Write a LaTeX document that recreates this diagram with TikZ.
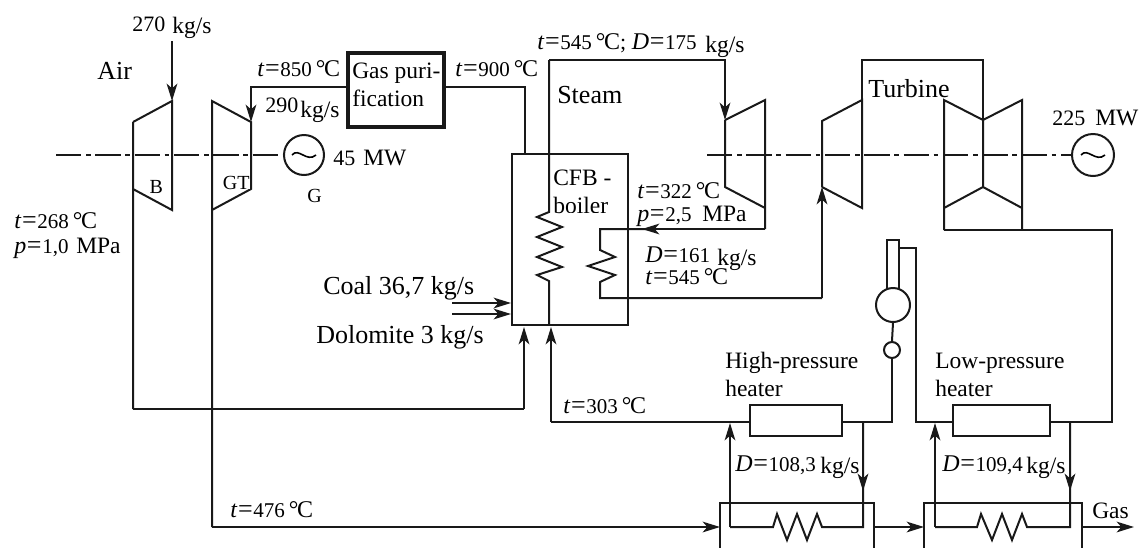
\documentclass[tikz,border=0pt]{standalone}
\usepackage{fontspec}
\setmainfont{Liberation Serif}
\usetikzlibrary{arrows.meta}
\newcommand\setpx[1]{\fontsize{\dimexpr#1pt*3/4\relax}{\dimexpr#1pt\relax}\selectfont}
\newcommand\Eq{{\setpx{26}\kern.5pt=\kern.5pt}}
\newcommand\Tv[1]{{\setpx{24}\textit{t}\Eq}{\setpx{21}#1}\kern3pt{\setpx{24}°\kern-1pt C}}
\newcommand\Pv[1]{{\setpx{24}\textit{p}\Eq}{\setpx{21}#1}}
\newcommand\Dv[1]{{\setpx{24}\textit{D}\Eq}{\setpx{21}#1}}
\tikzset{
  pipe/.style={line width=1.5pt,line join=miter,black!90},
  flow/.style={pipe,-{Stealth[length=13pt,width=8pt,inset=3.5pt]}},
  shaft/.style={line width=1pt,black!90,dash pattern=on 19pt off 3.5pt on 3.5pt off 3.5pt},
  lab/.style={anchor=base west,inner sep=0pt,font=\setpx{23.5}},
  big/.style={anchor=base west,inner sep=0pt,font=\setpx{26}},
  num/.style={anchor=base west,inner sep=0pt,font=\setpx{22}},
  tiny/.style={anchor=base west,inner sep=0pt,font=\setpx{20}},
  boxnode/.style={pipe,draw,rectangle,inner sep=0pt,fill=none},
}
\begin{document}
\begin{tikzpicture}[x=.75pt,y=-.75pt]
\useasboundingbox (0,0) rectangle (1142,547);
% named points
\coordinate (shL) at (56,155);
\coordinate (shR) at (707,155);
% boxes
\node[boxnode,line width=2.8pt,minimum width=72pt,minimum height=55.5pt] (gas) at (396,90) {};
\node[boxnode,minimum width=87pt,minimum height=128.25pt] (boiler) at (570,239.5) {};
\node[boxnode,minimum width=69pt,minimum height=23.25pt] (hpH) at (796,420.5) {};
\node[boxnode,minimum width=72.75pt,minimum height=23.25pt] (lpH) at (1001.5,420.5) {};
\node[boxnode,circle,minimum size=30pt] (genA) at (304,155) {};
\node[boxnode,circle,minimum size=31.5pt] (genB) at (1093,155) {};
\node[boxnode,circle,minimum size=25.5pt,fill=white] (drum) at (893,305) {};
\node[boxnode,circle,minimum size=12pt] (pump) at (892,350) {};
% air compressor
\draw[pipe] (133,122) -- (172,101) -- (172,210) -- (133,189) (133,122) -- (133,409) coordinate (airC);
% gas turbine
\draw[pipe] (212,527) -- (212,101) -- (251,122) -- (251,189) -- (212,210);
% shafts
\draw[shaft] (shL) -- (genA.west);
\draw[shaft] (shR) -- (genB.west);
% generator sine
\foreach \g in {genA,genB}
  \draw[line width=1.2pt] ([xshift=-9pt]\g.center) .. controls ([xshift=-4pt,yshift=6pt]\g.center) and ([xshift=2pt,yshift=-6pt]\g.center) .. ([xshift=9pt]\g.center);
% air
\coordinate (airIn) at (172,41);
\draw[flow] (airIn) -- (172,101);
\draw[pipe] (133,409) -- (524,409);
\draw[flow] (524,409) -- (524,327);
% gas lines
\draw[flow] (gas.west |- 0,87) -- (251,87) -- (251,122);
\draw[pipe] (gas.east |- 0,87) -- (525,87) -- (525,154);
% main steam
\draw[pipe] (549,325) -- (549,281) -- (537,275) -- (562,267) -- (537,257) -- (562,247) -- (537,237) -- (562,227) -- (537,217) -- (549,212) -- (549,60);
\draw[flow] (549,60) -- (725,60) -- (725,120);
% HP turbine
\draw[pipe] (725,120) -- (765,100) -- (765,229);
\draw[pipe] (725,120) -- (725,187) -- (765,208);
% reheat
\draw[flow] (765,229) -- (642,229);
\draw[pipe] (650,229) -- (600,229) -- (600,250) -- (615,257) -- (588,266) -- (615,275) -- (600,282) -- (600,298) -- (822,298);
\draw[flow] (822,298) -- (822,187);
% IP turbine
\draw[pipe] (822,187) -- (822,121) -- (862,100) -- (862,208) -- (822,187);
% crossover
\draw[pipe] (862,100) -- (862,60) -- (983,60) -- (983,120);
% LP turbine
\draw[pipe] (944,230) -- (944,100) -- (983,120) -- (1022,100) -- (1022,230);
\draw[pipe] (944,208) -- (983,187) -- (1022,208) (983,120) -- (983,187);
\draw[pipe] (944,230) -- (1112,230) -- (1112,422) -- (lpH.east |- 0,422);
% condensate
\draw[pipe] (lpH.west |- 0,422) -- (916,422) -- (916,248) -- (899,248);
\draw[pipe] (887,289) -- (887,240) -- (899,240) -- (899,289);
\draw[pipe] (drum.south) -- (pump.north);
\draw[pipe] (pump.south) -- (892,422) -- (hpH.east |- 0,422);
\draw[pipe] (hpH.west |- 0,422) -- (551,422);
\draw[flow] (551,422) -- (551,327);
% exchangers
\draw[pipe] (720,548) -- (720,503) -- (874,503) -- (874,548);
\draw[pipe] (924,548) -- (924,503) -- (1082,503) -- (1082,548);
\draw[flow] (212,527) -- (720,527);
\draw[flow] (874,527) -- (924,527);
\draw[flow] (1082,527) -- (1134,527);
\draw[flow] (730,527) -- (730,423);
\draw[pipe] (730,527) -- (773,527) -- (777,514) -- (787,540) -- (797,514) -- (807,540) -- (817,514) -- (822,527) -- (863,527) -- (863,422);
\draw[flow] (863,422) -- (863,491);
\draw[flow] (935,527) -- (935,423);
\draw[pipe] (935,527) -- (977,527) -- (981,514) -- (992,540) -- (1002,514) -- (1012,540) -- (1022,514) -- (1027,527) -- (1070,527) -- (1070,422);
\draw[flow] (1070,422) -- (1070,491);
% coal inputs
\coordinate (coalA) at (452,303);
\coordinate (coalB) at (452,314);
\draw[flow] (coalA) -- (coalA -| boiler.west);
\draw[flow] (coalB) -- (coalB -| boiler.west);
% labels
\node[num] (t270) at (132,31) {270};
\node[lab] (u270) at (172,33) {kg/s};
\node[big] (air) at (97,79) {Air};
\node[num] (t850) at (257,76) {\Tv{850}};
\node[num] (t290) at (265,112) {290};
\node[lab] (u290) at (300,117) {kg/s};
\node[num] (t45) at (333,165) {45};
\node[lab] (u45) at (363,165) {MW};
\node[tiny] (g) at (307,202) {G};
\node[tiny,fill=white,inner xsep=1pt] (b) at (148,193) {B};
\node[tiny,fill=white,inner xsep=.5pt] (gt) at (222,189) {GT};
\node[num] (t268) at (14,228) {\Tv{268}};
\node[num] (p10) at (14,253) {\Pv{1,0}};
\node[lab] (u10) at (76,253) {MPa};
\node[lab] (gp1) at (352,78) {Gas puri-};
\node[lab] (gp2) at (352,106) {fication};
\node[num] (t900) at (455,76) {\Tv{900}};
\node[num] (t545) at (537,49) {\Tv{545}; \Dv{175}};
\node[lab] (u175) at (705,52) {kg/s};
\node[big] (steam) at (557,103) {Steam};
\node[lab] (cfb) at (553,185) {CFB -};
\node[lab] (boil) at (553,213.5) {boiler};
\fill[white] (566,212.5) rectangle (620,216);
\node[num] (t322) at (637,198) {\Tv{322}};
\node[num] (p25) at (637,221) {\Pv{2,5}};
\node[lab] (u25) at (702,221) {MPa};
\node[num] (d161) at (645,262) {\Dv{161}};
\node[lab] (u161) at (717,265) {kg/s};
\node[num] (t545b) at (645,284) {\Tv{545}};
\node[big] (turb) at (868,97) {Turbine};
\node[num] (t225) at (1052,125) {225};
\node[lab] (u225) at (1095,125) {MW};
\node[big] (coal) at (323,294) {Coal 36,7 kg/s};
\node[big] (dol) at (316,343) {Dolomite 3 kg/s};
\node[num] (t303) at (563,413) {\Tv{303}};
\node[num] (t476) at (230,517) {\Tv{476}};
\node[lab] (hp1) at (725,368) {High-pressure};
\node[lab] (hp2) at (725,396) {heater};
\node[lab] (lp1) at (935,368) {Low-pressure};
\node[lab] (lp2) at (935,396) {heater};
\node[num] (d108) at (735,471) {\Dv{108,3}};
\node[lab] (u108) at (820,473) {kg/s};
\node[num] (d109) at (942,471) {\Dv{109,4}};
\node[lab] (u109) at (1026,473) {kg/s};
\node[lab] (gasout) at (1092,518) {Gas};
\end{tikzpicture}
\end{document}
